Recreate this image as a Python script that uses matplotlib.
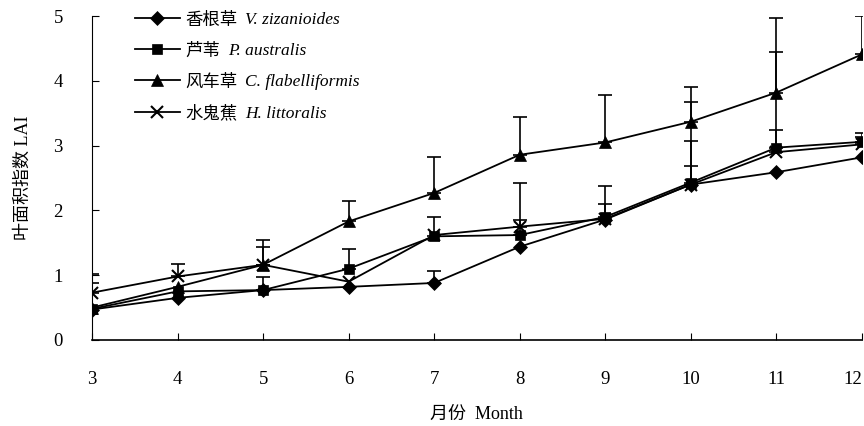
import numpy as np
import matplotlib
matplotlib.use('Agg')
import matplotlib.pyplot as plt

plt.rcParams['font.family'] = ['Liberation Serif', 'Noto Sans CJK SC']

months = [3, 4, 5, 6, 7, 8, 9, 10, 11, 12]

# LAI of the four plants
vz = [0.47, 0.65, 0.77, 0.82, 0.88, 1.44, 1.86, 2.40, 2.59, 2.82]
pa = [0.48, 0.75, 0.77, 1.10, 1.60, 1.62, 1.90, 2.43, 2.97, 3.06]
cf = [0.50, 0.82, 1.16, 1.83, 2.27, 2.86, 3.05, 3.37, 3.82, 4.41]
hl = [0.73, 0.98, 1.16, 0.90, 1.62, 1.75, 1.87, 2.40, 2.90, 3.02]

# upper error bars (0 = none drawn)
vz_err = [0, 0, 0.20, 0, 0.19, 0, 0, 0.28, 0, 0]
pa_err = [0, 0, 0, 0.31, 0.30, 0.81, 0.47, 0.64, 1.47, 0.14]
cf_err = [0.52, 0, 0.39, 0.31, 0.55, 0.59, 0.74, 0.53, 1.15, 0.59]
hl_err = [0.15, 0.19, 0.28, 0, 0, 0.10, 0.23, 1.27, 0.34, 0.12]

cn_names = ['香根草', '芦苇', '风车草', '水鬼蕉']
sp_names = ['V. zizanioides', 'P. australis', 'C. flabelliformis', 'H. littoralis']

fig = plt.figure(figsize=(8.64, 4.26), dpi=100)
ax = fig.add_axes([0.1065, 0.202, 0.891, 0.760])

series = [(vz, vz_err, 'D', 7), (pa, pa_err, 's', 7), (cf, cf_err, '^', 8.5), (hl, hl_err, 'x', 9)]
for (vals, err, mk, ms), cn in zip(series, cn_names):
    x = np.array(months)
    v = np.array(vals)
    e = np.array(err)
    m = e > 0
    ax.errorbar(x[m], v[m], yerr=[np.zeros(m.sum()), e[m]], fmt='none',
                ecolor='k', elinewidth=1.2, capsize=5, capthick=1.2)
    ax.plot(x, v, color='k', lw=1.3, marker=mk, markersize=ms,
            markeredgewidth=1.5 if mk == 'x' else 0.5, label=cn)

ax.set_xlim(3, 12)
ax.set_ylim(0, 5)
ax.set_xticks(months)
ax.set_yticks([0, 1, 2, 3, 4, 5])
ax.spines['top'].set_visible(False)
ax.spines['right'].set_visible(False)
ax.spines['left'].set_linewidth(0.8)
ax.spines['bottom'].set_linewidth(1.2)
ax.tick_params(direction='in', length=5, labelsize=13.5)
ax.tick_params(axis='y', pad=21)
ax.tick_params(axis='x', pad=22)
ax.get_xticklabels()[-1].set_horizontalalignment('right')

ax.set_xlabel('月份  Month', fontsize=13, labelpad=13)
ax.set_ylabel('叶面积指数 LAI', fontsize=13, labelpad=16)

leg = ax.legend(loc='upper left', bbox_to_anchor=(0.035, 1.06), frameon=False,
                fontsize=12.5, handlelength=2.6, labelspacing=0.85, handletextpad=0.3)

# italic species names next to the Chinese legend labels
fig.canvas.draw()
inv = fig.transFigure.inverted()
for txt, sp in zip(leg.get_texts(), sp_names):
    bb = txt.get_window_extent()
    x0, y0 = inv.transform((bb.x1 + 8, (bb.y0 + bb.y1) / 2))
    fig.text(x0, y0, sp, va='center', ha='left', fontsize=12.5, style='italic')

fig.savefig('out.png', dpi=100)
